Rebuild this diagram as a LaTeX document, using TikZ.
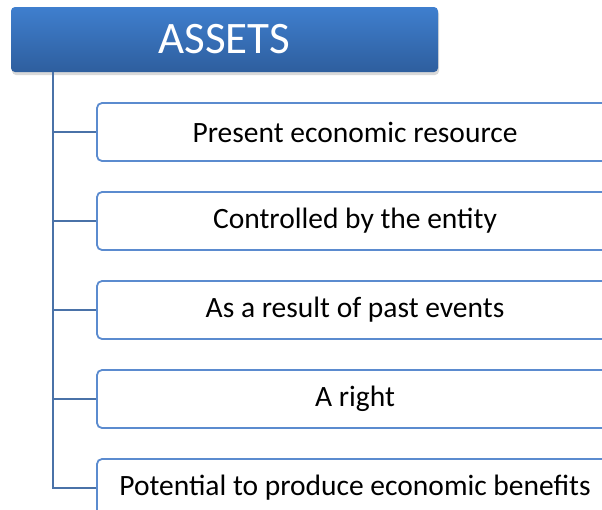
\documentclass[tikz,border=0pt]{standalone}
\usepackage{fontspec}
\setmainfont{Carlito}
\usetikzlibrary{shadows}
\definecolor{linec}{HTML}{4A72A8}
\definecolor{boxc}{HTML}{5B8BCF}
\definecolor{ttop}{HTML}{3F7FCE}
\definecolor{tbot}{HTML}{2E5E9E}
\begin{document}
\begin{tikzpicture}[x=1pt,y=-1pt,
  titlebox/.style={rounded corners=4pt, top color=ttop, bottom color=tbot, draw=none,
    minimum width=427pt, minimum height=65pt, inner sep=0pt, text=white,
    font=\fontsize{45}{50}\selectfont,
    drop shadow={opacity=0.3, shadow xshift=1pt, shadow yshift=-3pt}},
  item/.style={draw=boxc, line width=1.8pt, rounded corners=5pt, fill=white,
    minimum width=516pt, minimum height=58pt, inner sep=0pt,
    font=\fontsize{29.5}{34}\selectfont},
  conn/.style={draw=linec, line width=2pt}]
\useasboundingbox (0,0) rectangle (602,509);
\clip (0,0) rectangle (602,509);
\node[titlebox] (title) at (224.5,39.5) {ASSETS};
\coordinate (spine) at (53,0);
\node[item] (i1) at (355,132) {Present economic resource};
\node[item] (i2) at (355,221) {Controlled by the entity};
\node[item] (i3) at (355,310) {As a result of past events};
\node[item] (i4) at (355,399) {A right};
\node[item] (i5) at (355,488) {Potential to produce economic benefits};
\draw[conn] (title.south -| spine) -- (spine |- i5.west) -- (i5.west);
\foreach \n in {i1,i2,i3,i4}{
  \draw[conn] (spine |- \n.west) -- (\n.west);
}
\end{tikzpicture}
\end{document}
